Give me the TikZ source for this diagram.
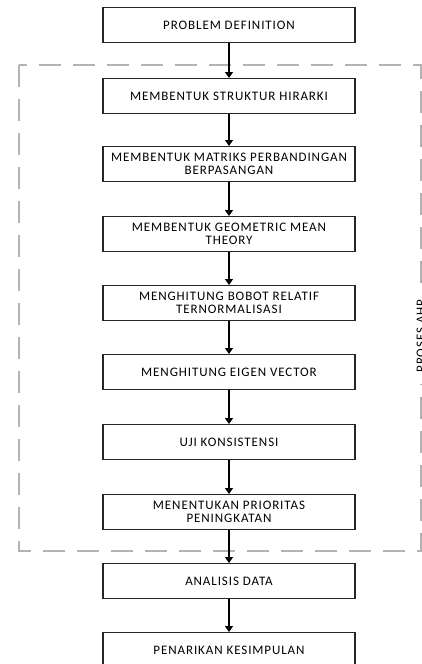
\documentclass[tikz,border=0pt]{standalone}
\usepackage{fontspec}
\setmainfont{Carlito}[LetterSpace=7]
\usetikzlibrary{arrows.meta}
\begin{document}
\begin{tikzpicture}[x=1pt,y=-1pt,
  stepbox/.style={draw=black!85, line width=1.1pt, minimum width=252pt, minimum height=35pt,
    inner sep=0pt, align=center, anchor=north, font=\fontsize{13}{13.5}\selectfont},
  flow/.style={line width=1.3pt, -{Triangle[width=8pt,length=6pt]}},
  region/.style={draw=black!30, line width=1.5pt, dash pattern=on 22pt off 12pt},
  regionlabel/.style={rotate=90, fill=white, minimum width=95pt, inner sep=1pt, font=\fontsize{13}{13.5}\selectfont}]
\useasboundingbox (0,0) rectangle (422,664);
\draw[region] (19,65) rectangle (421,551);
\node[regionlabel] (lbl) at (421,336) {PROSES AHP};
\node[stepbox] (b1) at (229,7) {PROBLEM DEFINITION};
\node[stepbox] (b2) at (229,78) {MEMBENTUK STRUKTUR HIRARKI};
\node[stepbox] (b3) at (229,146) {MEMBENTUK MATRIKS PERBANDINGAN\\BERPASANGAN};
\node[stepbox] (b4) at (229,216) {MEMBENTUK GEOMETRIC MEAN\\THEORY};
\node[stepbox] (b5) at (229,285) {MENGHITUNG BOBOT RELATIF\\TERNORMALISASI};
\node[stepbox] (b6) at (229,354) {MENGHITUNG EIGEN VECTOR};
\node[stepbox] (b7) at (229,424) {UJI KONSISTENSI};
\node[stepbox] (b8) at (229,494) {MENENTUKAN PRIORITAS\\PENINGKATAN};
\node[stepbox] (b9) at (229,563) {ANALISIS DATA};
\node[stepbox] (b10) at (229,632) {PENARIKAN KESIMPULAN};
\foreach \a/\b in {b1/b2,b2/b3,b3/b4,b4/b5,b5/b6,b6/b7,b7/b8,b8/b9,b9/b10}
  \draw[flow] (\a.south) -- (\b.north);
\end{tikzpicture}
\end{document}
